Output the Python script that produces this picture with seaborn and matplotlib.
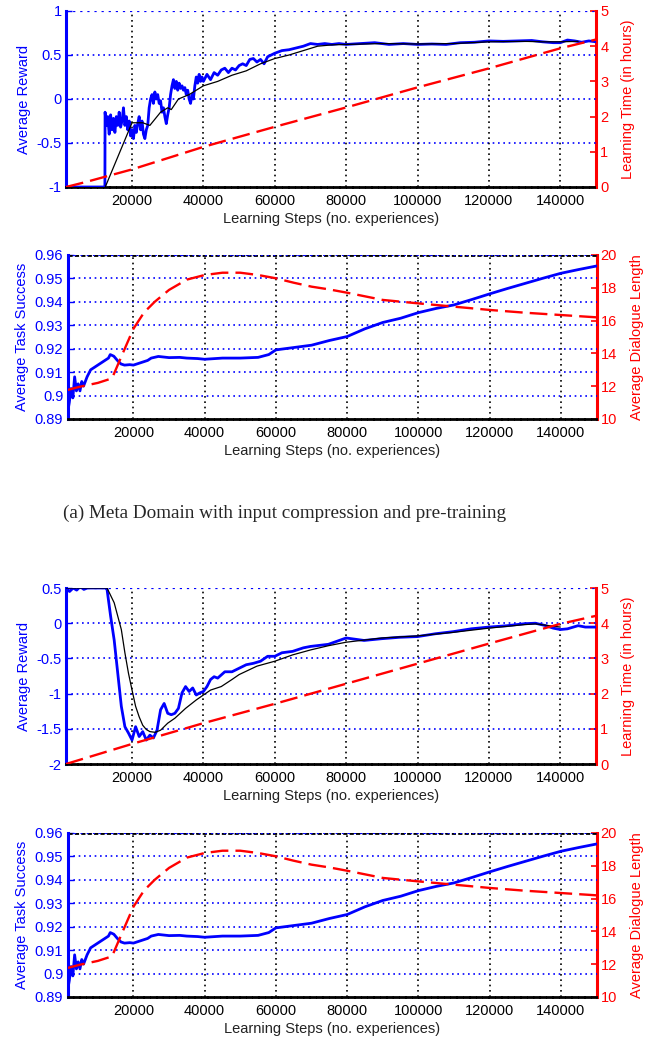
import numpy as np
import matplotlib
matplotlib.use("Agg")
import matplotlib.pyplot as plt
import seaborn as sns

# ---------------- data ----------------
# Panel (a) top: average reward (blue), smoothed reward (black), learning time (red)
reward_a_x = [1500, 12400, 12450, 12800, 13200, 13600, 14000, 14400, 14800, 15200, 15600, 16000,
              16400, 16800, 17200, 17600, 18000, 18400, 18800, 19200, 19600, 20000, 20400, 20800,
              21200, 21600, 22000, 22400, 22800, 23200, 23600, 24000, 24400, 24800, 25200, 25600,
              26000, 26400, 26800, 27200, 27600, 28000, 28400, 28800, 29200, 29600, 30000, 30400,
              30800, 31200, 31600, 32000, 32400, 32800, 33200, 33600, 34000, 34400, 34800, 35200,
              35600, 36000, 36400, 36800, 37200, 37600, 38000, 38400, 38800, 39200, 39600, 40000,
              41000, 42000, 43000, 44000, 45000, 46000, 47000, 48000, 49000, 50000, 51000, 52000,
              53000, 54000, 55000, 56000, 57000, 58000, 59000, 60000, 62000, 64000, 66000, 68000,
              70000, 72000, 74000, 76000, 78000, 80000, 84000, 88000, 92000, 96000, 100000, 104000,
              108000, 112000, 116000, 120000, 124000, 128000, 132000, 135000, 138000, 140000,
              142000, 144000, 146000, 148000, 150000]
reward_a_y = [-1.0, -1.0, -0.15, -0.3, -0.2, -0.4, -0.18, -0.35, -0.22, -0.38, -0.2, -0.3,
              -0.15, -0.32, -0.25, -0.1, -0.3, -0.2, -0.35, -0.25, -0.42, -0.35, -0.45, -0.3,
              -0.38, -0.28, -0.2, -0.35, -0.25, -0.4, -0.45, -0.35, -0.3, -0.1, 0.0, 0.05,
              -0.05, 0.08, 0.0, 0.05, -0.05, -0.02, -0.15, -0.1, -0.2, -0.28, -0.18, -0.1,
              0.05, 0.15, 0.22, 0.12, 0.2, 0.1, 0.18, 0.12, 0.15, 0.1, 0.13, 0.05,
              0.1, 0.0, -0.05, 0.05, 0.0, 0.15, 0.25, 0.18, 0.28, 0.2, 0.25, 0.2,
              0.28, 0.22, 0.3, 0.27, 0.33, 0.35, 0.3, 0.35, 0.33, 0.38, 0.4, 0.38,
              0.45, 0.46, 0.42, 0.45, 0.4, 0.48, 0.5, 0.52, 0.55, 0.56, 0.58, 0.6,
              0.63, 0.62, 0.63, 0.62, 0.63, 0.62, 0.63, 0.64, 0.62, 0.63, 0.62, 0.625,
              0.62, 0.64, 0.645, 0.66, 0.655, 0.66, 0.665, 0.65, 0.64, 0.64,
              0.67, 0.66, 0.645, 0.66, 0.65]

smooth_a_x = [12500, 20000, 23000, 25000, 28000, 30000, 31000, 33000, 36000, 38000, 40000,
              44000, 48000, 52000, 56000, 60000, 64000, 68000, 72000, 76000, 80000, 90000,
              100000, 110000, 120000, 130000, 135000, 140000, 145000]
smooth_a_y = [-1.0, -0.27, -0.27, -0.3, -0.15, -0.1, -0.12, 0.0, 0.05, 0.1, 0.15,
              0.2, 0.27, 0.32, 0.4, 0.46, 0.5, 0.55, 0.6, 0.615, 0.62, 0.63,
              0.625, 0.63, 0.65, 0.655, 0.65, 0.65, 0.655]

time_a_x = [1500, 7000, 20000, 40000, 60000, 80000, 100000, 120000, 140000, 150000]
time_a_y = [0.0, 0.14, 0.5, 1.14, 1.71, 2.26, 2.83, 3.37, 3.94, 4.19]

# Task success (blue) and dialogue length (red) -- same in both "success" panels
succ_x = [1500, 2000, 2500, 3000, 3500, 4000, 4500, 5000, 5500, 6000, 7000, 8000, 9000, 10000,
          11000, 12000, 13000, 13500, 14500, 15500, 16500, 17500, 19000, 20000, 22000, 24000,
          25000, 27000, 30000, 33000, 35000, 38000, 40000, 43000, 45000, 50000, 55000, 58000,
          60000, 65000, 70000, 75000, 80000, 85000, 90000, 95000, 100000, 105000, 110000,
          115000, 120000, 125000, 130000, 135000, 140000, 145000, 150000]
succ_y = [0.8925, 0.897, 0.903, 0.899, 0.908, 0.902, 0.905, 0.902, 0.906, 0.904, 0.908, 0.911,
          0.912, 0.913, 0.914, 0.915, 0.916, 0.9175, 0.9168, 0.915, 0.9135, 0.913, 0.9132, 0.913,
          0.914, 0.915, 0.916, 0.9167, 0.9162, 0.9163, 0.916, 0.9158, 0.9155, 0.9158, 0.916,
          0.916, 0.9163, 0.9175, 0.9195, 0.9205, 0.9215, 0.9235, 0.9252, 0.9285, 0.9312, 0.933,
          0.9354, 0.9372, 0.9387, 0.941, 0.9434, 0.9457, 0.9479, 0.9501, 0.9522, 0.9538, 0.9553]

dlen_x = [1500, 5000, 10000, 14000, 17000, 20000, 23000, 26000, 30000, 35000, 40000, 45000,
          50000, 55000, 60000, 65000, 70000, 75000, 80000, 90000, 100000, 110000, 120000,
          130000, 140000, 150000]
dlen_y = [11.77, 11.97, 12.2, 12.48, 14.0, 15.5, 16.5, 17.15, 17.87, 18.5, 18.78, 18.92,
          18.92, 18.78, 18.58, 18.31, 18.07, 17.9, 17.7, 17.26, 17.05, 16.85, 16.65,
          16.48, 16.34, 16.2]

# Panel (b) top: average reward (blue), smoothed (black), learning time (red)
reward_b_x = [1500, 2500, 3500, 4500, 5500, 6500, 7500, 9000, 12500, 13000, 14000, 15000, 16000,
              17000, 18000, 19000, 20000, 21000, 22000, 23000, 24000, 25000, 26000, 27000,
              28000, 29000, 30000, 31000, 32000, 33000, 34000, 35000, 36000, 37000, 38000,
              39000, 40000, 41000, 42000, 43000, 44000, 46000, 48000, 50000, 52000, 54000,
              56000, 58000, 60000, 62000, 65000, 68000, 70000, 75000, 80000, 85000, 90000,
              95000, 100000, 105000, 110000, 115000, 120000, 125000, 130000, 133000, 136000,
              138000, 140000, 142000, 145000, 147000, 150000]
reward_b_y = [0.5, 0.45, 0.5, 0.47, 0.52, 0.48, 0.5, 0.5, 0.5, 0.48, 0.1, -0.24, -0.71,
              -1.18, -1.47, -1.56, -1.66, -1.47, -1.61, -1.54, -1.66, -1.59, -1.63, -1.52,
              -1.23, -1.14, -1.28, -1.3, -1.28, -1.21, -0.99, -0.9, -0.97, -0.92, -1.02,
              -0.99, -0.97, -0.9, -0.8, -0.76, -0.78, -0.69, -0.69, -0.64, -0.59, -0.57,
              -0.54, -0.47, -0.47, -0.42, -0.4, -0.35, -0.33, -0.3, -0.21, -0.245, -0.22,
              -0.2, -0.19, -0.15, -0.12, -0.08, -0.055, -0.036, -0.007, 0.0, -0.036,
              -0.07, -0.09, -0.08, -0.035, -0.055, -0.055]

smooth_b_x = [1500, 13000, 15000, 17000, 18000, 19000, 20000, 21000, 22000, 23000, 24000,
              25000, 26500, 28000, 30000, 32000, 35000, 38000, 40000, 42000, 45000, 48000,
              50000, 55000, 60000, 65000, 70000, 75000, 80000, 90000, 100000, 110000, 120000,
              130000, 133000, 137000, 140000]
smooth_b_y = [0.5, 0.5, 0.29, -0.09, -0.42, -0.71, -0.95, -1.18, -1.33, -1.45, -1.51,
              -1.54, -1.55, -1.52, -1.42, -1.35, -1.21, -1.09, -1.02, -0.95, -0.9, -0.8,
              -0.73, -0.61, -0.54, -0.45, -0.38, -0.32, -0.27, -0.21, -0.18, -0.13, -0.07,
              -0.02, -0.01, -0.036, -0.055]

time_b_x = [1500, 20000, 40000, 60000, 80000, 100000, 120000, 140000, 150000]
time_b_y = [0.0, 0.57, 1.16, 1.71, 2.28, 2.85, 3.42, 3.98, 4.21]

x_ticks = [20000, 40000, 60000, 80000, 100000, 120000, 140000]
reward_a_ticks = [-1, -0.5, 0, 0.5, 1]
reward_b_ticks = [-2, -1.5, -1, -0.5, 0, 0.5]
time_ticks = [0, 1, 2, 3, 4, 5]
succ_ticks = [0.89, 0.9, 0.91, 0.92, 0.93, 0.94, 0.95, 0.96]
dlen_ticks = [10, 12, 14, 16, 18, 20]

XLABEL = "Learning Steps (no. experiences)"
CAPTION = "(a) Meta Domain with input compression and pre-training"

# ---------------- style ----------------
sns.set_theme(style="white")
plt.rcParams["font.family"] = ["Liberation Sans", "DejaVu Sans"]
plt.rcParams["axes.unicode_minus"] = False

BLUE = "#0000ff"
RED = "#ff0000"
FS = 10.5
DOT = (0, (1, 2.2))
DASH = (0, (7.5, 3.0))

fig = plt.figure(figsize=(6.57, 10.38), dpi=100)
W, H = 657.0, 1038.0


def make_axes(left, right, top, bottom):
    return fig.add_axes([left / W, 1 - bottom / H, (right - left) / W, (bottom - top) / H])


def style_pair(ax, ax2, lticks, rticks, ylim_l, ylim_r, llabel, rlabel):
    ax.set_xlim(1500, 150000)
    ax.set_ylim(*ylim_l)
    ax2.set_ylim(*ylim_r)
    ax.set_xticks(x_ticks)
    ax.set_xticklabels([str(t) for t in x_ticks], fontsize=FS, color="black")
    ax.set_yticks(lticks)
    ax.set_yticklabels(["%g" % t for t in lticks], fontsize=FS, color=BLUE)
    ax2.set_yticks(rticks)
    ax2.set_yticklabels(["%g" % t for t in rticks], fontsize=FS, color=RED)
    ax.set_xlabel(XLABEL, fontsize=FS, color="#222222", labelpad=3)
    ax.set_ylabel(llabel, fontsize=FS, color=BLUE, labelpad=4)
    ax2.set_ylabel(rlabel, fontsize=FS, color=RED, labelpad=9)
    ax.tick_params(axis="x", direction="in", length=4, width=1, colors="black", pad=5,
                   labelcolor="black", top=False)
    ax.tick_params(axis="y", direction="in", length=4, width=1, colors=BLUE, pad=3)
    ax2.tick_params(axis="y", direction="in", length=4, width=1.2, colors=RED, pad=3)
    # grid
    for t in lticks[1:-1]:
        ax.axhline(t, color=BLUE, linestyle=DOT, lw=1.2, zorder=0.5)
    ax.axhline(lticks[-1], color=BLUE, linestyle=DOT, lw=1.6, zorder=0.5)
    for t in x_ticks:
        ax.axvline(t, color="black", linestyle=DOT, lw=1.2, zorder=0.5)
    for a in (ax, ax2):
        for s in ("top", "left", "right", "bottom"):
            a.spines[s].set_visible(False)
    ax.spines["left"].set_visible(True)
    ax.spines["left"].set_color(BLUE)
    ax.spines["left"].set_linewidth(2.2)
    ax2.spines["right"].set_visible(True)
    ax2.spines["right"].set_color(RED)
    ax2.spines["right"].set_linewidth(2.2)
    ax.spines["bottom"].set_visible(True)
    ax.spines["bottom"].set_color("black")
    ax.spines["bottom"].set_linewidth(2.0)
    ax.spines["bottom"].set_linestyle((0, (1.5, 0.8)))
    ax.patch.set_alpha(0)


def reward_panel(top, bottom, rx, ry, sx, sy, tx, ty, lticks, ylim):
    ax = make_axes(66, 596, top, bottom)
    ax2 = ax.twinx()
    ax.set_zorder(2)
    ax2.set_zorder(1)
    sns.lineplot(x=rx, y=ry, ax=ax, color=BLUE, lw=2.0, sort=False, estimator=None, zorder=3)
    sns.lineplot(x=sx, y=sy, ax=ax, color="black", lw=0.9, sort=False, estimator=None, zorder=4)
    style_pair(ax, ax2, lticks, time_ticks, ylim, (0, 5), "Average Reward",
               "Learning Time (in hours)")
    sns.lineplot(x=tx, y=ty, ax=ax, color=RED, lw=1.7, sort=False, estimator=None,
                 linestyle=DASH, zorder=5, transform=ax2.transData)
    ax.set_ylim(*ylim)
    ax2.set_ylim(0, 5)
    return ax, ax2


def success_panel(top, bottom):
    ax = make_axes(67.5, 596.5, top, bottom)
    ax2 = ax.twinx()
    ax.set_zorder(2)
    ax2.set_zorder(1)
    sns.lineplot(x=succ_x, y=succ_y, ax=ax, color=BLUE, lw=2.0, sort=False, estimator=None,
                 zorder=3)
    style_pair(ax, ax2, succ_ticks, dlen_ticks, (0.89, 0.96), (10, 20),
               "Average Task Success", "Average Dialogue Length")
    sns.lineplot(x=dlen_x, y=dlen_y, ax=ax, color=RED, lw=1.7, sort=False, estimator=None,
                 linestyle=DASH, zorder=4, transform=ax2.transData)
    # black top border for success panels
    ax.axhline(0.96, color="black", lw=2.0, linestyle=(0, (1.5, 0.8)), zorder=0.6)
    ax.axhline(0.96, color=BLUE, linestyle=DOT, lw=1.4, zorder=0.7)
    ax.set_ylim(0.89, 0.96)
    ax2.set_ylim(10, 20)
    return ax, ax2


reward_panel(11, 187, reward_a_x, reward_a_y, smooth_a_x, smooth_a_y, time_a_x, time_a_y,
             reward_a_ticks, (-1, 1))
success_panel(255, 419)
fig.text(285 / W, 1 - 513 / H, CAPTION, ha="center", va="center", fontsize=13.8,
         family=["Liberation Serif", "DejaVu Serif"])
reward_panel(588, 764, reward_b_x, reward_b_y, smooth_b_x, smooth_b_y, time_b_x, time_b_y,
             reward_b_ticks, (-2, 0.5))
success_panel(833, 997)

fig.savefig("out.png", dpi=100)
